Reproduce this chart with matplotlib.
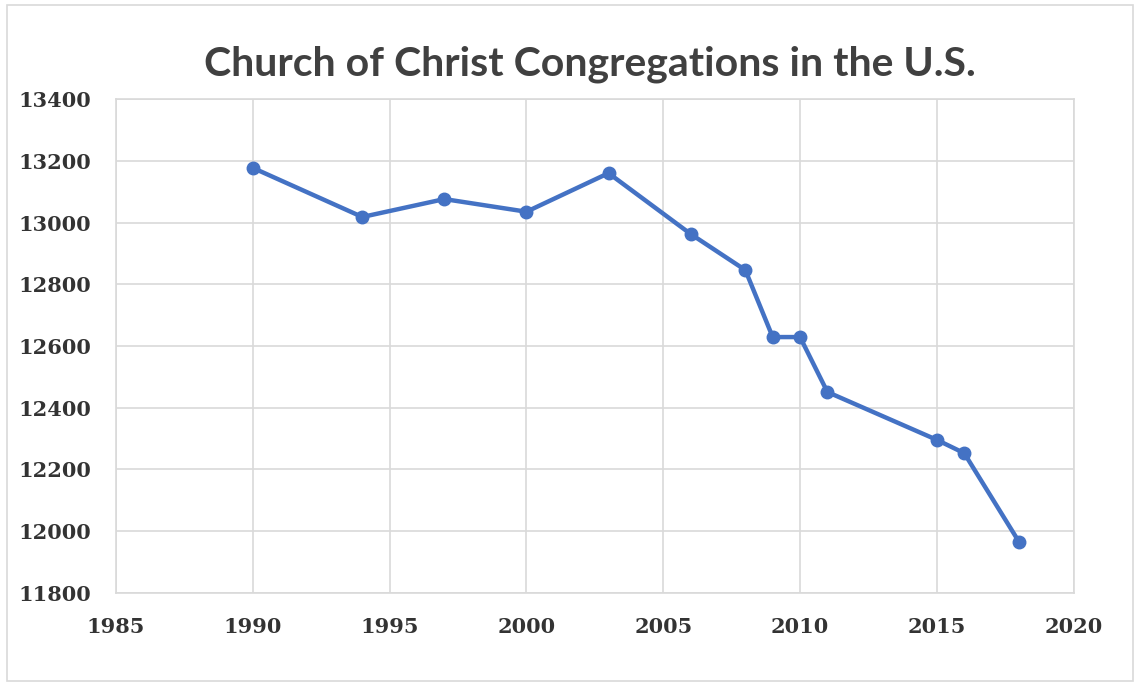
import matplotlib
matplotlib.use("Agg")
import matplotlib.pyplot as plt
from matplotlib.patches import Rectangle

# Congregations by year
years = [1990, 1994, 1997, 2000, 2003, 2006, 2008, 2009, 2010, 2011, 2015, 2016, 2018]
congregations = [13177, 13018, 13076, 13035, 13160, 12963, 12846, 12629, 12629, 12451, 12296, 12253, 11966]

x_ticks = [1985, 1990, 1995, 2000, 2005, 2010, 2015, 2020]
y_ticks = [11800, 12000, 12200, 12400, 12600, 12800, 13000, 13200, 13400]

fig = plt.figure(figsize=(11.4, 6.86), dpi=100)
ax = fig.add_axes([0.1018, 0.1356, 0.840, 0.720])

# outer chart border
fig.patches.append(Rectangle((0.006, 0.008), 0.988, 0.985, transform=fig.transFigure,
                             fill=False, edgecolor="#d9d9d9", linewidth=1.2))

ax.plot(years, congregations, color="#4472C4", linewidth=3.2,
        marker="o", markersize=9, zorder=3)

ax.set_xlim(1985, 2020)
ax.set_ylim(11800, 13400)
ax.set_xticks(x_ticks)
ax.set_yticks(y_ticks)
ax.grid(True, color="#d9d9d9", linewidth=1.2)
for s in ax.spines.values():
    s.set_color("#d9d9d9")
    s.set_linewidth(1.2)
ax.tick_params(length=0, labelsize=15, labelcolor="#333333")
ax.tick_params(axis="y", pad=18)
ax.tick_params(axis="x", pad=17)
for lab in ax.get_xticklabels() + ax.get_yticklabels():
    lab.set_fontweight("bold")
    lab.set_family("DejaVu Serif")

fig.text(0.517, 0.907, "Church of Christ Congregations in the U.S.",
         ha="center", va="center", fontsize=29.5, fontweight="bold",
         color="#404040", family="Lato")

fig.savefig("out.png", dpi=100)
